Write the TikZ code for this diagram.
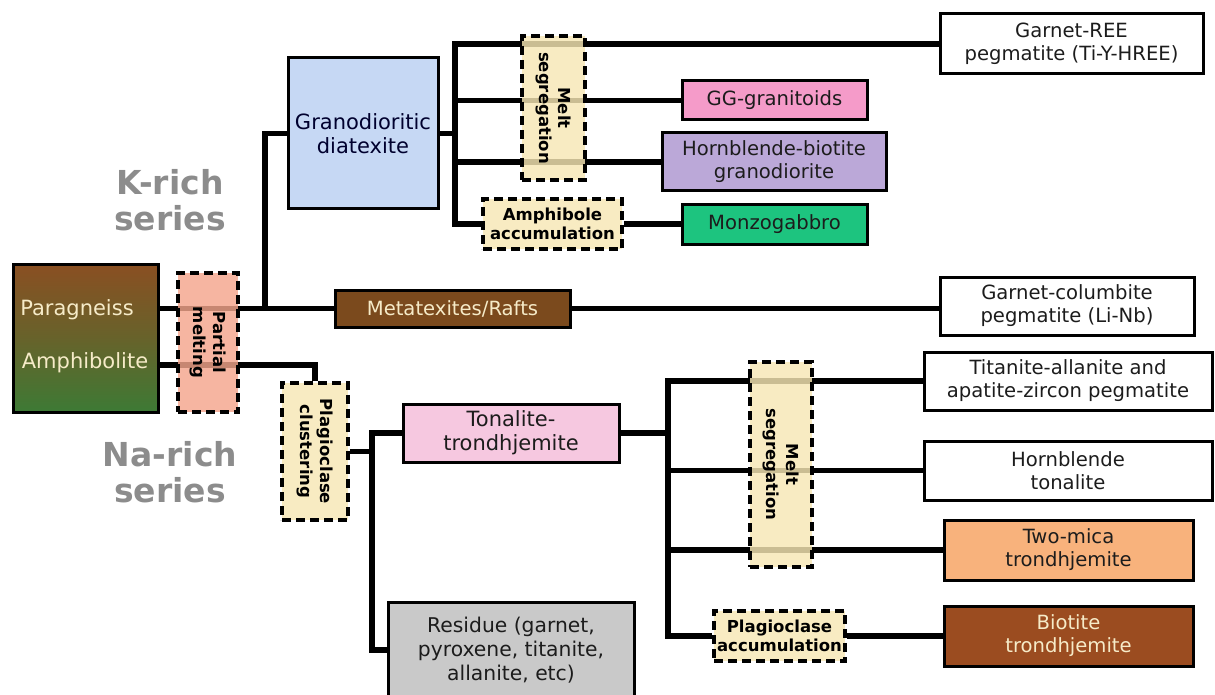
\documentclass[tikz,border=0pt]{standalone}
\usepackage{fontspec}
\setmainfont{DejaVu Sans}
\usetikzlibrary{backgrounds}
\definecolor{salmon}{HTML}{F4A58C}
\definecolor{creamy}{HTML}{F7E7B4}
\definecolor{lblue}{HTML}{C6D8F4}
\definecolor{ggpink}{HTML}{F59BC9}
\definecolor{lav}{HTML}{BBA8D8}
\definecolor{mzgreen}{HTML}{1DC47F}
\definecolor{mtbrown}{HTML}{7B4A1D}
\definecolor{ttpink}{HTML}{F6C8E0}
\definecolor{resgrey}{HTML}{C9C9C9}
\definecolor{tmorange}{HTML}{F8B27C}
\definecolor{btbrown}{HTML}{9B4C20}
\definecolor{srctop}{HTML}{8A4F22}
\definecolor{srcbot}{HTML}{3D7A35}
\definecolor{creamtext}{HTML}{F6EBC8}
\definecolor{sergray}{HTML}{8C8C8C}
\definecolor{txt}{HTML}{1C1C1C}
\tikzset{
  rock/.style={draw=black, line width=3pt, align=center, inner sep=0pt,
    text=txt, font=\fontsize{19.6}{23}\selectfont},
  bigtext/.style={font=\fontsize{21}{24}\selectfont},
  proc/.style={draw=black, line width=3.5pt, dash pattern=on 9pt off 5pt,
    fill=creamy, fill opacity=0.82, text opacity=1, align=center, inner sep=0pt,
    text=black, font=\fontsize{16.5}{19.5}\selectfont\bfseries},
  proclabel/.style={rotate=-90, align=center, font=\fontsize{16.5}{19.5}\selectfont\bfseries},
  link/.style={line width=5.5pt, draw=black},
  series/.style={text=sergray, font=\fontsize{33}{36}\selectfont\bfseries, align=center}
}
\begin{document}
\begin{tikzpicture}[x=1pt,y=-1pt]
\useasboundingbox (0,0) rectangle (1215,695);
% source
\node[rock, minimum width=145pt, minimum height=148pt, top color=srctop, bottom color=srcbot, middle color=srctop!55!srcbot] (src) at (85.5,338) {};
\node[text=creamtext, font=\fontsize{21}{24}\selectfont] (para) at (77,310) {Paragneiss};
\node[text=creamtext, font=\fontsize{21}{24}\selectfont] (amph) at (85,363) {Amphibolite};
\node[proc, fill=salmon, minimum width=60pt, minimum height=139pt] (pm) at (208,342.5) {};
\node[proclabel] (pmt) at (208,342.5) {Partial\\melting};
% K-rich
\node[rock, bigtext, fill=lblue, minimum width=150pt, minimum height=151pt, text=black!70!blue!60!black] (gd) at (363,133.5) {Granodioritic\\diatexite};
\node[rock, minimum width=263pt, minimum height=60pt] (gree) at (1071.5,44) {Garnet-REE\\pegmatite (Ti-Y-HREE)};
\node[rock, fill=ggpink, minimum width=185pt, minimum height=39pt] (gg) at (774.5,100.5) {GG-granitoids};
\node[rock, fill=lav, minimum width=224pt, minimum height=58pt] (hb) at (774,162) {Hornblende-biotite\\granodiorite};
\node[rock, fill=mzgreen, minimum width=185pt, minimum height=39pt] (mz) at (774.5,224.5) {Monzogabbro};
\node[rock, fill=mtbrown, text=creamtext, minimum width=235pt, minimum height=37pt] (mt) at (452.5,308.5) {Metatexites/Rafts};
\node[rock, minimum width=254pt, minimum height=58pt] (gc) at (1067,306) {Garnet-columbite\\pegmatite (Li-Nb)};
\node[proc, minimum width=63pt, minimum height=144pt] (ms1) at (553.5,108) {};
\node[proclabel] (ms1t) at (553.5,108) {Melt\\segregation};
\node[proc, minimum width=139pt, minimum height=50pt] (aa) at (552.5,224) {Amphibole\\accumulation};
% Na-rich
\node[proc, minimum width=66pt, minimum height=137pt] (pc) at (315,451.5) {};
\node[proclabel] (pct) at (315,451.5) {Plagioclase\\clustering};
\node[rock, bigtext, fill=ttpink, minimum width=216pt, minimum height=58pt] (tt) at (511,433) {Tonalite-\\trondhjemite};
\node[rock, font=\fontsize{20.3}{24}\selectfont, fill=resgrey, minimum width=246pt, minimum height=96pt] (res) at (511,650) {Residue (garnet,\\pyroxene, titanite,\\allanite, etc)};
\node[rock, minimum width=288pt, minimum height=58pt] (ta) at (1068,381) {Titanite-allanite and\\apatite-zircon pegmatite};
\node[rock, minimum width=288pt, minimum height=59pt] (ht) at (1068,470.5) {Hornblende\\tonalite};
\node[rock, fill=tmorange, minimum width=249pt, minimum height=60pt] (tm) at (1068.5,550) {Two-mica\\trondhjemite};
\node[rock, fill=btbrown, text=creamtext, minimum width=249pt, minimum height=60pt] (bt) at (1068.5,636) {Biotite\\trondhjemite};
\node[proc, minimum width=62pt, minimum height=205pt] (ms2) at (781,464.5) {};
\node[proclabel] (ms2t) at (781,464.5) {Melt\\segregation};
\node[proc, minimum width=131pt, minimum height=50pt] (pa) at (779.5,636) {Plagioclase\\accumulation};
% series labels
\node[series] (krich) at (170,200) {K-rich\\series};
\node[series] (narich) at (170,472) {Na-rich\\series};
% connectors
\coordinate (j1) at (265,308.5);
\coordinate (amy) at (0,365);
\coordinate (j2) at (372,451.5);
\coordinate (j3) at (455,133.5);
\coordinate (j4) at (668,433);
\begin{pgfonlayer}{background}
\draw[link] (src.east |- mt.west) -- (mt.west);
\draw[link] (j1) |- (gd.west);
\draw[link] (mt.east) -- (mt.east -| gc.west);
\draw[link] (src.east |- amy) -| (pc.north);
\draw[link] (pc.east) -- (j2);
\draw[link] (tt.west) -| (j2) |- (res.west);
\draw[link] (gd.east) -- (j3);
\draw[link] (gree.west) -| (j3) |- (aa.west);
\draw[link] (j3 |- gg.west) -- (gg.west);
\draw[link] (j3 |- hb.west) -- (hb.west);
\draw[link] (aa.east) -- (aa.east -| mz.west);
\draw[link] (tt.east) -- (j4);
\draw[link] (ta.west) -| (j4) |- (pa.west);
\draw[link] (j4 |- ht.west) -- (ht.west);
\draw[link] (j4 |- tm.west) -- (tm.west);
\draw[link] (pa.east) -- (bt.west);
\end{pgfonlayer}
\end{tikzpicture}
\end{document}
